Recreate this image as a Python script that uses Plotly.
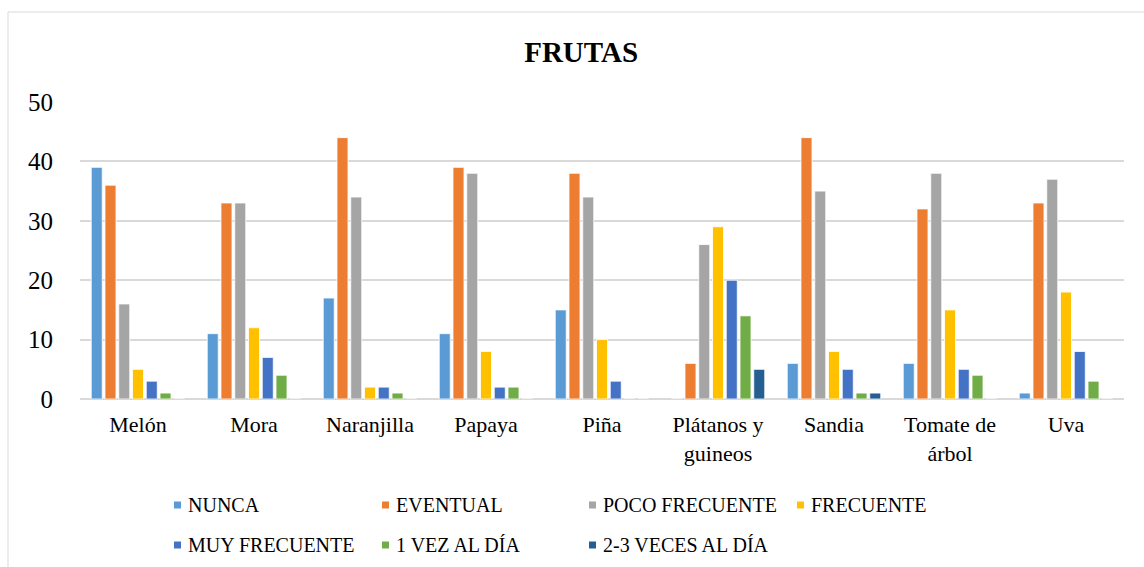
import plotly.graph_objects as go

categories = ["Melón", "Mora", "Naranjilla", "Papaya", "Piña",
              "Plátanos y<br>guineos", "Sandia", "Tomate de<br>árbol", "Uva"]
series_names = ["NUNCA", "EVENTUAL", "POCO FRECUENTE", "FRECUENTE",
                "MUY FRECUENTE", "1 VEZ AL DÍA", "2-3 VECES AL DÍA"]
nunca = [39, 11, 17, 11, 15, 0, 6, 6, 1]
eventual = [36, 33, 44, 39, 38, 6, 44, 32, 33]
poco_frecuente = [16, 33, 34, 38, 34, 26, 35, 38, 37]
frecuente = [5, 12, 2, 8, 10, 29, 8, 15, 18]
muy_frecuente = [3, 7, 2, 2, 3, 20, 5, 5, 8]
una_vez_dia = [1, 4, 1, 2, 0, 14, 1, 4, 3]
dos_tres_veces_dia = [0, 0, 0, 0, 0, 5, 1, 0, 0]
y_ticks = [0, 10, 20, 30, 40, 50]

values = [nunca, eventual, poco_frecuente, frecuente, muy_frecuente,
          una_vez_dia, dos_tres_veces_dia]
colors = ["#5B9BD5", "#ED7D31", "#A5A5A5", "#FFC000", "#4472C4", "#70AD47", "#255E91"]

font_family = "Liberation Serif, Times New Roman, serif"

W, H = 1144, 567
ML, MR, MT, MB = 80, 20, 102, 168
PW, PH = W - ML - MR, H - MT - MB


def px_x(px):
    return (px - ML) / PW


def px_y(py):
    return (H - MB - py) / PH


fig = go.Figure()
for name, vals, c in zip(series_names, values, colors):
    fig.add_trace(go.Bar(
        x=categories, y=vals, name=name, showlegend=False,
        marker=dict(color=c, line=dict(color="white", width=0.8)),
    ))

# Legend drawn as Excel-style compact entries (layout only)
legend_cols = [174, 382, 589, 797]
legend_rows = [505, 545]
annotations = []
shapes = []
for i, (name, c) in enumerate(zip(series_names, colors)):
    col = legend_cols[i % 4]
    row = legend_rows[i // 4]
    shapes.append(dict(type="rect", xref="paper", yref="paper",
                       x0=px_x(col), x1=px_x(col + 7), y0=px_y(row + 3.5), y1=px_y(row - 3.5),
                       fillcolor=c, line=dict(width=0)))
    annotations.append(dict(text=name, xref="paper", yref="paper",
                            x=px_x(col + 12), y=px_y(row), xanchor="left", yanchor="middle",
                            showarrow=False,
                            font=dict(family=font_family, size=20, color="#000000")))

shapes.append(dict(type="rect", xref="paper", yref="paper",
                   x0=px_x(8), x1=px_x(1160), y0=px_y(600), y1=px_y(12),
                   line=dict(color="#D9D9D9", width=1), fillcolor="rgba(0,0,0,0)", layer="below"))

fig.update_layout(
    width=W, height=H,
    barmode="group", bargap=0.17, bargroupgap=0.2,
    paper_bgcolor="white", plot_bgcolor="white",
    margin=dict(l=ML, r=MR, t=MT, b=MB, autoexpand=False),
    font=dict(family=font_family, size=20, color="#000000"),
    title=dict(text="<b>FRUTAS</b>", x=0.508, xanchor="center", y=0.908, yanchor="middle",
               font=dict(family=font_family, size=29, color="#000000")),
    showlegend=False,
    xaxis=dict(showgrid=False, showline=False, ticks="", ticklabelstandoff=10,
               tickfont=dict(family=font_family, size=22)),
    yaxis=dict(range=[0, 50], tickvals=y_ticks, showgrid=True, gridcolor="#D9D9D9",
               gridwidth=1.5, zeroline=True, zerolinecolor="#D9D9D9", zerolinewidth=1.5,
               showline=False, ticks="", ticklabelstandoff=26,
               tickfont=dict(family=font_family, size=25)),
    shapes=shapes,
    annotations=annotations,
)

fig.write_html("out.html", config={"displayModeBar": False},
               post_script="document.body.style.margin='0';document.body.style.overflow='hidden';")
